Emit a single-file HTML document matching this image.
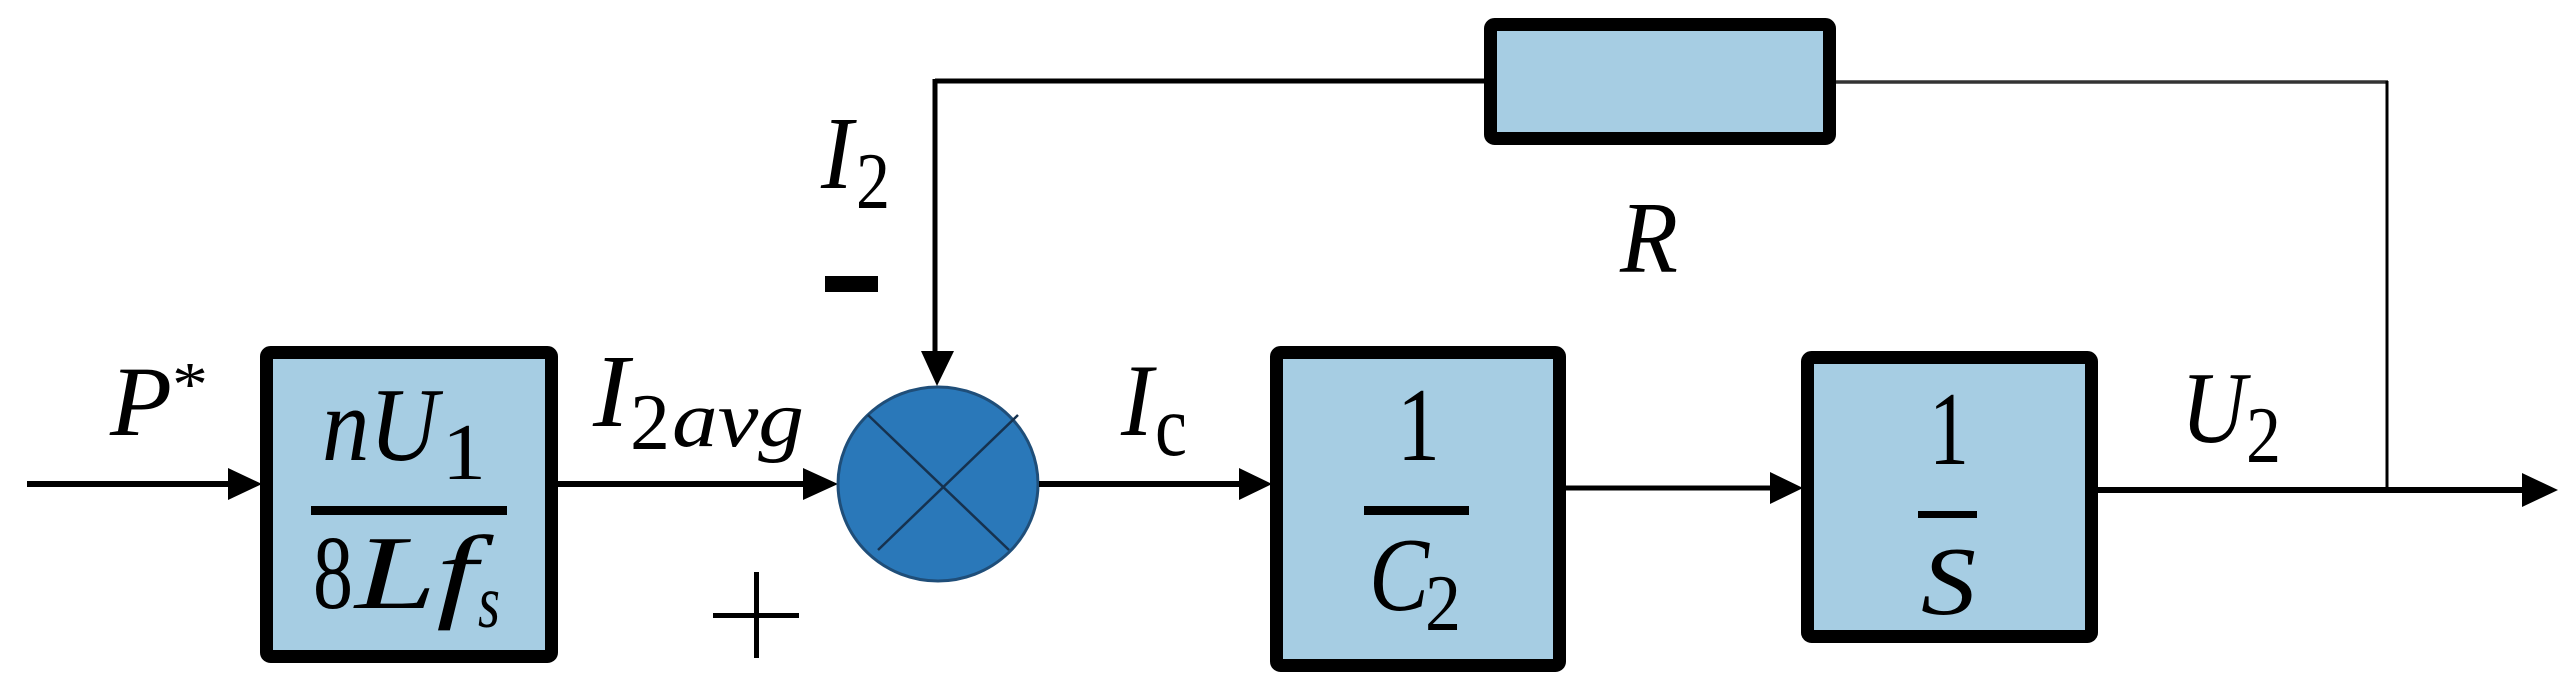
<!DOCTYPE html>
<html><head><meta charset="utf-8"><style>html,body{margin:0;padding:0;background:#fff}svg{display:block}</style></head>
<body>
<svg width="2574" height="693" viewBox="0 0 2574 693" xmlns="http://www.w3.org/2000/svg">
<g font-family="Liberation Serif, serif" fill="#000">
<!-- input -->
<line x1="27" y1="484" x2="232" y2="484" stroke="#000" stroke-width="6"/>
<polygon points="228,468 262,484 228,500"/>
<text x="110" y="435" font-size="100" font-style="italic" textLength="62" lengthAdjust="spacingAndGlyphs">P</text>
<text x="172" y="405" font-size="62" textLength="36" lengthAdjust="spacingAndGlyphs">*</text>
<!-- block1 -->
<rect x="266.5" y="352.5" width="285" height="304" rx="4" fill="#a6cde3" stroke="#000" stroke-width="13"/>
<text x="322" y="460" font-size="105" font-style="italic" textLength="116" lengthAdjust="spacingAndGlyphs">nU</text>
<text x="442" y="479" font-size="80" textLength="44" lengthAdjust="spacingAndGlyphs">1</text>
<rect x="311" y="506" width="196" height="9"/>
<text x="313" y="608" font-size="105" textLength="40" lengthAdjust="spacingAndGlyphs">8</text>
<text x="355" y="608" font-size="105" font-style="italic" textLength="122" lengthAdjust="spacingAndGlyphs">Lf</text>
<text x="478" y="627" font-size="75" font-style="italic" textLength="22" lengthAdjust="spacingAndGlyphs">s</text>
<!-- I2avg -->
<line x1="558" y1="484" x2="806" y2="484" stroke="#000" stroke-width="6"/>
<polygon points="803,468 838,484 803,500"/>
<text x="593" y="426" font-size="104" font-style="italic" textLength="36" lengthAdjust="spacingAndGlyphs">I</text>
<text x="630" y="449" font-size="80" textLength="40" lengthAdjust="spacingAndGlyphs">2</text>
<text x="672" y="446" font-size="80" font-style="italic" textLength="132" lengthAdjust="spacingAndGlyphs">avg</text>
<!-- summing junction -->
<ellipse cx="938" cy="484" rx="100" ry="97" fill="#2a78b9" stroke="#1f4e79" stroke-width="3"/>
<line x1="868" y1="415" x2="1009" y2="550" stroke="#16324f" stroke-width="2.5"/>
<line x1="1018" y1="415" x2="878" y2="550" stroke="#16324f" stroke-width="2.5"/>
<!-- feedback -->
<line x1="935" y1="81" x2="1490" y2="81" stroke="#000" stroke-width="5"/>
<line x1="935" y1="79" x2="935" y2="356" stroke="#000" stroke-width="5"/>
<polygon points="921,351 954,351 937,386"/>
<text x="821" y="188" font-size="104" font-style="italic" textLength="32" lengthAdjust="spacingAndGlyphs">I</text>
<text x="856" y="208" font-size="80" textLength="34" lengthAdjust="spacingAndGlyphs">2</text>
<rect x="825" y="276" width="53" height="16"/>
<!-- plus -->
<rect x="713" y="613" width="86" height="5"/>
<rect x="754" y="572" width="5" height="86"/>
<!-- resistor -->
<rect x="1490.5" y="24.5" width="339" height="114" rx="4" fill="#a6cde3" stroke="#000" stroke-width="13"/>
<line x1="1836" y1="82" x2="2388" y2="82" stroke="#333" stroke-width="3.5"/>
<line x1="2387" y1="81" x2="2387" y2="490" stroke="#000" stroke-width="3"/>
<text x="1620" y="272" font-size="102" font-style="italic" textLength="58" lengthAdjust="spacingAndGlyphs">R</text>
<!-- Ic -->
<line x1="1039" y1="484" x2="1242" y2="484" stroke="#000" stroke-width="6"/>
<polygon points="1239,468 1272,484 1239,500"/>
<text x="1121" y="435" font-size="103" font-style="italic" textLength="32" lengthAdjust="spacingAndGlyphs">I</text>
<text x="1155" y="455" font-size="87" textLength="32" lengthAdjust="spacingAndGlyphs">c</text>
<!-- block2 -->
<rect x="1276.5" y="352.5" width="283" height="313" rx="4" fill="#a6cde3" stroke="#000" stroke-width="13"/>
<text x="1397" y="460" font-size="105" textLength="43" lengthAdjust="spacingAndGlyphs">1</text>
<rect x="1364" y="506" width="105" height="9"/>
<text x="1369" y="610" font-size="105" font-style="italic" textLength="60" lengthAdjust="spacingAndGlyphs">C</text>
<text x="1425" y="630" font-size="80" textLength="36" lengthAdjust="spacingAndGlyphs">2</text>
<!-- arrow 2->3 -->
<line x1="1566" y1="488" x2="1774" y2="488" stroke="#000" stroke-width="5"/>
<polygon points="1770,472 1803,488 1770,504"/>
<!-- block3 -->
<rect x="1807.5" y="357.5" width="284" height="279" rx="4" fill="#a6cde3" stroke="#000" stroke-width="13"/>
<text x="1929" y="464" font-size="105" textLength="40" lengthAdjust="spacingAndGlyphs">1</text>
<rect x="1918" y="511" width="59" height="7"/>
<text x="1921" y="614" font-size="98" font-style="italic" textLength="55" lengthAdjust="spacingAndGlyphs">S</text>
<!-- output -->
<line x1="2098" y1="490" x2="2526" y2="490" stroke="#000" stroke-width="6"/>
<polygon points="2522,473 2558,490 2522,507"/>
<text x="2181" y="442" font-size="102" font-style="italic" textLength="65" lengthAdjust="spacingAndGlyphs">U</text>
<text x="2246" y="462" font-size="80" textLength="35" lengthAdjust="spacingAndGlyphs">2</text>
</g>
</svg>
</body></html>
